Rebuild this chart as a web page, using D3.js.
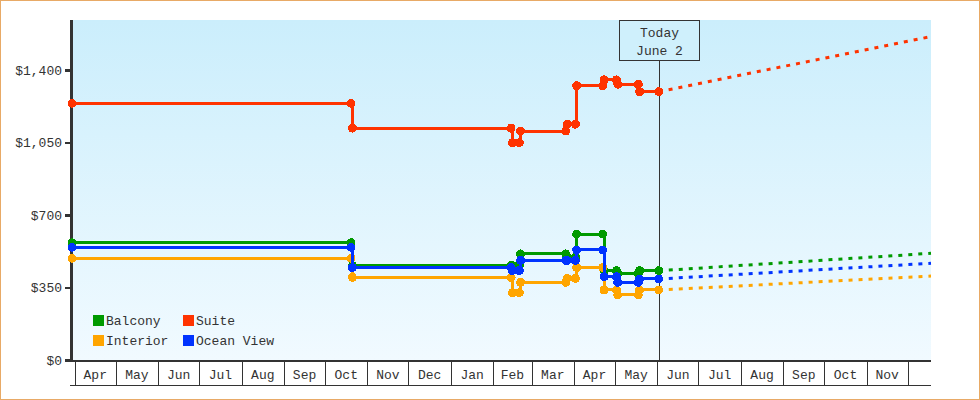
<!DOCTYPE html>
<html>
<head>
<meta charset="utf-8">
<script src="https://cdn.jsdelivr.net/npm/d3@7"></script>
<style>
  body { margin: 0; background: #fff; }
  text { font-family: "Liberation Mono", "DejaVu Sans Mono", monospace; font-size: 13px; fill: #333; }
</style>
</head>
<body>
<div id="chart"></div>
<script>
const obsDates = ['2014-03-30', '2014-10-20', '2014-10-21', '2015-02-14', '2015-02-15', '2015-02-20',
  '2015-02-21', '2015-03-26', '2015-03-27', '2015-04-02', '2015-04-03', '2015-04-22', '2015-04-23',
  '2015-05-02', '2015-05-03', '2015-05-18', '2015-05-19', '2015-06-02'];

const balcony = [566, 566, 455, 455, 455, 455, 512, 512, 496, 496, 608, 608, 431, 431, 418, 418, 431, 431];
const suite = [1239, 1239, 1119, 1119, 1049, 1049, 1105, 1105, 1138, 1138, 1324, 1324, 1352, 1352, 1331, 1331, 1295, 1295];
const interior = [491, 491, 399, 399, 325, 325, 375, 375, 394, 394, 446, 446, 338, 338, 314, 314, 338, 338];
const oceanView = [544, 544, 446, 446, 432, 432, 481, 481, 481, 481, 531, 531, 402, 402, 375, 375, 391, 391];

// forecast end values (at right edge of chart)
const forecastEnd = '2015-12-18';
const forecastValues = { Balcony: 515, Suite: 1561, Interior: 405, 'Ocean View': 467 };

const seriesNames = ['Balcony', 'Suite', 'Interior', 'Ocean View'];
const seriesValues = [balcony, suite, interior, oceanView];
const seriesColors = ['#009a00', '#ff3300', '#ffa500', '#0033ff'];

const yTicks = [0, 350, 700, 1050, 1400];
const todayDate = '2015-06-02';
const todayLabel = ['Today', 'June 2'];

const parse = d3.utcParse('%Y-%m-%d');
const width = 980, height = 400;
const plotLeft = 72, plotRight = 931, plotTop = 20, plotBottom = 360;

const x = d3.scaleUtc()
  .domain([parse('2014-03-30'), parse(forecastEnd)])
  .range([plotLeft, plotRight]);
const y = d3.scaleLinear().domain([0, 1641]).range([plotBottom, plotTop]);

const svg = d3.select('#chart').append('svg')
  .attr('width', width)
  .attr('height', height);

const grad = svg.append('defs').append('linearGradient')
  .attr('id', 'bg').attr('x1', 0).attr('y1', 0).attr('x2', 0).attr('y2', 1);
grad.append('stop').attr('offset', '0%').attr('stop-color', '#cbeefc');
grad.append('stop').attr('offset', '100%').attr('stop-color', '#f1faff');

svg.append('rect')
  .attr('x', 0.5).attr('y', 0.5)
  .attr('width', width - 1).attr('height', height - 1)
  .attr('fill', '#fff').attr('stroke', '#e8aa66');

svg.append('rect')
  .attr('x', plotLeft).attr('y', plotTop)
  .attr('width', plotRight - plotLeft).attr('height', plotBottom - plotTop)
  .attr('fill', 'url(#bg)');

// x axis: month cells
const months = d3.utcMonth.range(parse('2014-04-01'), parse('2015-12-02'));
const xg = svg.append('g').attr('shape-rendering', 'crispEdges');
xg.append('line')
  .attr('x1', plotLeft - 2).attr('x2', plotRight)
  .attr('y1', 385.5).attr('y2', 385.5)
  .attr('stroke', '#333').attr('stroke-width', 1.5);
months.forEach(function(m, i) {
  const x0 = Math.round(x(m)) + 0.5;
  xg.append('line')
    .attr('x1', x0).attr('x2', x0)
    .attr('y1', plotBottom).attr('y2', 385)
    .attr('stroke', '#333').attr('stroke-width', 1.5);
  if (i < months.length - 1) {
    const x1 = x(months[i + 1]);
    xg.append('text')
      .attr('x', (x(m) + x1) / 2)
      .attr('y', 378.5)
      .attr('text-anchor', 'middle')
      .text(d3.utcFormat('%b')(m));
  }
});
xg.append('line')
  .attr('x1', plotLeft - 2).attr('x2', plotRight)
  .attr('y1', plotBottom + 1).attr('y2', plotBottom + 1)
  .attr('stroke', '#333').attr('stroke-width', 2.5);

// y axis
const yAxis = svg.append('g')
  .attr('transform', `translate(${plotLeft - 1},0)`)
  .attr('shape-rendering', 'crispEdges')
  .call(d3.axisLeft(y).tickValues(yTicks).tickSize(6).tickSizeOuter(0).tickPadding(3)
    .tickFormat(d => '$' + d3.format(',')(d)));
yAxis.select('.domain').attr('stroke', '#333').attr('stroke-width', 3)
  .attr('d', `M0,${plotTop}V${plotBottom + 2}`);
yAxis.selectAll('.tick line').attr('stroke', '#333').attr('stroke-width', 2.5);
yAxis.attr('font-size', null).attr('font-family', null);
yAxis.selectAll('.tick text').attr('fill', '#333');

// today marker
const tx = Math.round(x(parse(todayDate))) + 0.5;
svg.append('line')
  .attr('x1', tx).attr('x2', tx)
  .attr('y1', 60).attr('y2', plotBottom)
  .attr('stroke', '#333').attr('stroke-width', 1);
svg.append('rect')
  .attr('x', tx - 40).attr('y', plotTop + 0.5)
  .attr('width', 80).attr('height', 40)
  .attr('fill', '#cff0fc').attr('stroke', '#333');
todayLabel.forEach(function(t, i) {
  svg.append('text')
    .attr('x', tx)
    .attr('y', 37 + i * 18)
    .attr('text-anchor', 'middle')
    .text(t);
});

// series
const line = d3.line().x(d => x(d.date)).y(d => y(d.value)).curve(d3.curveStepAfter);
const fline = d3.line().x(d => x(d.date)).y(d => y(d.value));

seriesNames.forEach(function(name, si) {
  const pts = obsDates.map((d, i) => ({ date: parse(d), value: seriesValues[si][i] }));
  const color = seriesColors[si];
  const last = pts[pts.length - 1];

  svg.append('path')
    .attr('d', fline([last, { date: parse(forecastEnd), value: forecastValues[name] }]))
    .attr('fill', 'none')
    .attr('stroke', color)
    .attr('stroke-width', 3)
    .attr('stroke-dasharray', '4,6');

  svg.append('path')
    .attr('d', line(pts))
    .attr('fill', 'none')
    .attr('stroke', color)
    .attr('stroke-width', 3)
    .attr('shape-rendering', 'crispEdges');

  pts.forEach(function(p) {
    svg.append('circle')
      .attr('cx', x(p.date))
      .attr('cy', y(p.value))
      .attr('r', 4.5)
      .attr('fill', color)
      .attr('shape-rendering', 'crispEdges');
  });
});

// legend
seriesNames.forEach(function(name, i) {
  const lx = i % 2 === 0 ? 93 : 183;
  const ly = i < 2 ? 315 : 335;
  svg.append('rect')
    .attr('x', lx).attr('y', ly)
    .attr('width', 11).attr('height', 11)
    .attr('fill', seriesColors[i]);
  svg.append('text')
    .attr('x', lx + 13)
    .attr('y', ly + 10)
    .text(name);
});
</script>
</body>
</html>
